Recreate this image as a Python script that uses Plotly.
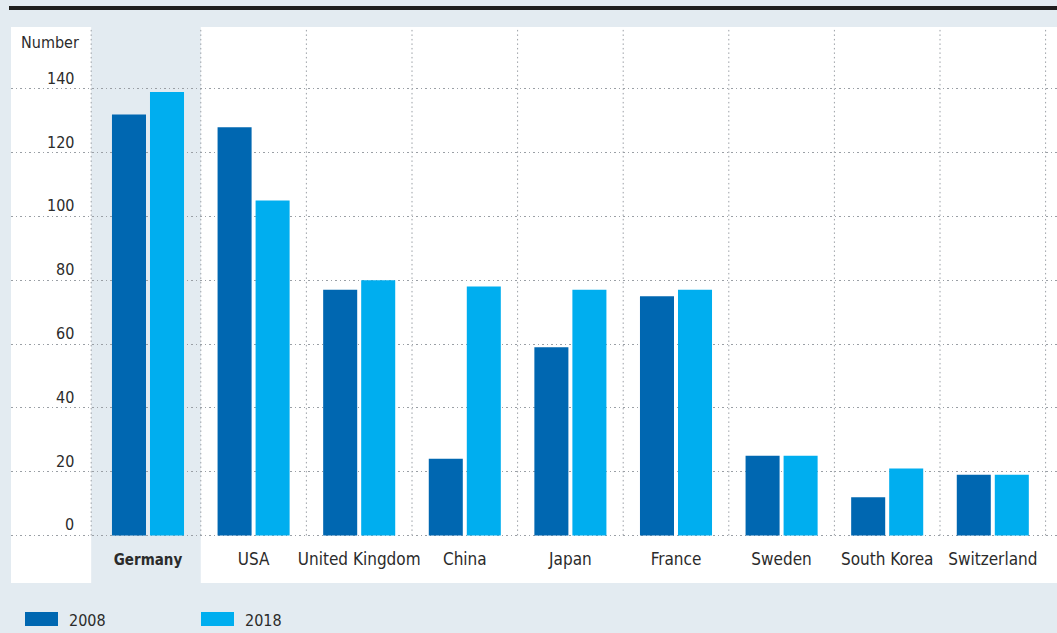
import plotly.graph_objects as go

# ---------------- data ----------------
categories = ["Germany", "USA", "United Kingdom", "China", "Japan",
              "France", "Sweden", "South Korea", "Switzerland"]
series_names = ["2008", "2018"]
values_2008 = [132, 128, 77, 24, 59, 75, 25, 12, 19]
values_2018 = [139, 105, 80, 78, 77, 77, 25, 21, 19]
y_tick_values = [0, 20, 40, 60, 80, 100, 120, 140]
y_tick_labels = ["0", "20", "40", "60", "80", "100", "120", "140"]
y_title = "Number"
highlight = "Germany"

# ---------------- style ----------------
W, H = 1057, 633
ML, MR, MT, MB = 11, 0, 27, 96
PW, PH = W - ML - MR, H - MT - MB
X_RANGE = [-1.2973, 8.608]
Y_RANGE = [-0.5, 159.4]

C2008 = "#0067b1"
C2018 = "#00aeef"
BG = "#e3ebf1"
TXT = "#2b2b2b"
GRID = "#9a9fa5"
FONT = "DejaVu Sans Condensed, Liberation Sans Narrow, Roboto, sans-serif"
FS = 16
FS_CAT = 17


def px_x(px):
    return (px - ML) / PW


def px_y(py):
    return (H - MB - py) / PH


def data_x(v):
    return (v - X_RANGE[0]) / (X_RANGE[1] - X_RANGE[0])


xs = list(range(len(categories)))
fig = go.Figure()
for name, vals, col in zip(series_names, [values_2008, values_2018], [C2008, C2018]):
    fig.add_trace(go.Bar(x=xs, y=vals, name=name, marker_color=col,
                         marker_line_width=0, showlegend=False,
                         hovertemplate="%{y}<extra>" + name + "</extra>"))

ticktext = [f'<span style="font-size:15px"><b>{c}</b></span>' if c == highlight else c
            for c in categories]

shapes = []
# white panel
shapes.append(dict(type="rect", xref="paper", yref="paper",
                   x0=px_x(11), x1=1, y0=px_y(583), y1=1,
                   fillcolor="white", line_width=0, layer="below"))
# highlighted column band
hi = categories.index(highlight)
shapes.append(dict(type="rect", xref="paper", yref="paper",
                   x0=data_x(hi - 0.538), x1=data_x(hi + 0.5), y0=px_y(583), y1=1,
                   fillcolor=BG, line_width=0, layer="below"))
# top black rule
shapes.append(dict(type="line", xref="paper", yref="paper",
                   x0=px_x(9), x1=1, y0=px_y(8), y1=px_y(8),
                   line=dict(color="#1e1e1e", width=4), layer="above"))
# vertical dotted separators
vlines = [hi - 0.538] + [i + 0.5 for i in xs]
for xv in vlines:
    shapes.append(dict(type="line", xref="x", yref="y", x0=xv, x1=xv,
                       y0=0, y1=Y_RANGE[1],
                       line=dict(color=GRID, width=1, dash="1.5px,3px"),
                       layer="below"))
# legend swatches
for k, (name, col) in enumerate(zip(series_names, [C2008, C2018])):
    shapes.append(dict(type="rect", xref="paper", yref="paper",
                       x0=px_x(25 + 176 * k), x1=px_x(58 + 176 * k),
                       y0=px_y(626), y1=px_y(612),
                       fillcolor=col, line_width=0))

annotations = []
for v, t in zip(y_tick_values, y_tick_labels):
    annotations.append(dict(x=px_x(76), xref="paper", y=v, yref="y",
                            text=t, xanchor="right", yanchor="bottom",
                            yshift=-1, showarrow=False,
                            font=dict(family=FONT, size=FS, color=TXT)))
annotations.append(dict(x=px_x(81), xref="paper", y=px_y(42), yref="paper",
                        text=y_title, xanchor="right", yanchor="middle",
                        showarrow=False, font=dict(family=FONT, size=FS, color=TXT)))
for k, name in enumerate(series_names):
    annotations.append(dict(x=px_x(67 + 176 * k), xref="paper", y=px_y(620), yref="paper",
                            text=name, xanchor="left", yanchor="middle",
                            showarrow=False, font=dict(family=FONT, size=FS, color=TXT)))

fig.update_layout(
    width=W, height=H,
    margin=dict(l=ML, r=MR, t=MT, b=MB),
    paper_bgcolor=BG, plot_bgcolor="rgba(0,0,0,0)",
    barmode="group", bargap=0.28, bargroupgap=0.105,
    font=dict(family=FONT, size=FS, color=TXT),
    shapes=shapes, annotations=annotations,
    xaxis=dict(range=X_RANGE, tickvals=xs, ticktext=ticktext,
               showgrid=False, zeroline=False, showline=False, ticks="",
               ticklabelstandoff=10, fixedrange=True,
               tickfont=dict(family=FONT, size=FS_CAT, color=TXT)),
    yaxis=dict(range=Y_RANGE, tickvals=y_tick_values, showticklabels=False,
               showgrid=True, gridcolor=GRID, gridwidth=1, griddash="1.5px,3px",
               zeroline=False, showline=False, ticks="", fixedrange=True),
)

fig.write_html("out.html")
